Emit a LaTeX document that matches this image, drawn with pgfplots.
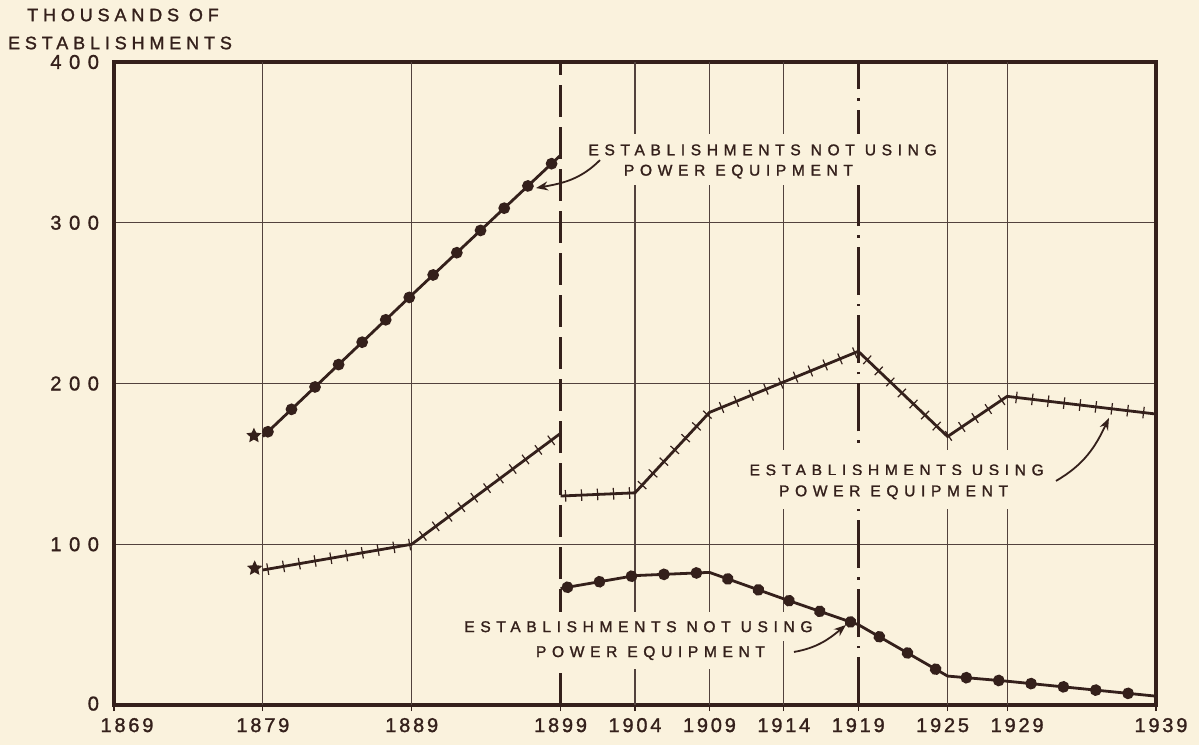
\documentclass[border=0pt]{standalone}
\usepackage{pgfplots}
\pgfplotsset{compat=1.18}
\usetikzlibrary{decorations.markings, arrows.meta}
\usepackage{fontspec}
\setmainfont{Liberation Sans}
\newfontfamily\annf[LetterSpace=36, FakeBold=1.4]{Liberation Sans}
\newfontfamily\xtf[LetterSpace=14, FakeBold=1.4]{Liberation Sans}
\newfontfamily\ytf[LetterSpace=38, FakeBold=1.4]{Liberation Sans}
\newfontfamily\ylf[LetterSpace=27, FakeBold=1.4]{Liberation Sans}
\definecolor{bg}{RGB}{250,242,221}
\definecolor{ink}{RGB}{52,32,27}

\pgfdeclareplotmark{fstar}{%
  \pgfpathmoveto{\pgfpointpolar{90}{\pgfplotmarksize}}%
  \pgfpathlineto{\pgfpointpolar{126}{0.48\pgfplotmarksize}}%
  \pgfpathlineto{\pgfpointpolar{162}{\pgfplotmarksize}}%
  \pgfpathlineto{\pgfpointpolar{198}{0.48\pgfplotmarksize}}%
  \pgfpathlineto{\pgfpointpolar{234}{\pgfplotmarksize}}%
  \pgfpathlineto{\pgfpointpolar{270}{0.48\pgfplotmarksize}}%
  \pgfpathlineto{\pgfpointpolar{306}{\pgfplotmarksize}}%
  \pgfpathlineto{\pgfpointpolar{342}{0.48\pgfplotmarksize}}%
  \pgfpathlineto{\pgfpointpolar{18}{\pgfplotmarksize}}%
  \pgfpathlineto{\pgfpointpolar{54}{0.48\pgfplotmarksize}}%
  \pgfpathclose\pgfusepathqfill}

\tikzset{
  dotline/.style={ink, line width=1.4pt, postaction={decorate},
    decoration={markings, mark=between positions 3.5pt and 1 step 16.25pt with {\fill[ink] (0pt,0pt) circle (2.2pt);}}},
  tickline/.style={ink, line width=1.4pt, postaction={decorate},
    decoration={markings, mark=between positions 2.5pt and 1 step 8pt with {\draw[ink, line width=0.6pt] (0pt,-2.9pt) -- (0pt,2.9pt);}}},
  ann/.style={fill=bg, inner xsep=4pt, text=ink, font=\annf\fontsize{7.8}{9}\selectfont},
  arr/.style={ink, line width=0.9pt, -{Stealth[length=6pt,width=4.5pt]}},
}

\pgfplotstableread{
x y
1879 167
1889 255
1899 342
}\notusingA
\pgfplotstableread{
x y
1899 72.5
1904 80.5
1909 82.5
1914 66
1919 50
1925 18
1929 14.8
1939 5.5
}\notusingB
\pgfplotstableread{
x y
1879 84
1889 100
1899 169
}\usingA
\pgfplotstableread{
x y
1899 130
1904 132
1909 182
1919 220
1925 167
1929 192
1939 181
}\usingB

\begin{document}
\begin{tikzpicture}
\path[use as bounding box, fill=bg] (-57pt,-20pt) rectangle (542.5pt,352.5pt);
\node[text=ink, font=\ylf\fontsize{9}{11}\selectfont] at (4.5pt,345pt) {THOUSANDS OF};
\node[text=ink, font=\ylf\fontsize{9}{11}\selectfont] at (3pt,331pt) {ESTABLISHMENTS};
\begin{axis}[
  at={(0,0)}, anchor=south west,
  width=521pt, height=321.5pt, scale only axis,
  xmin=1869, xmax=1939, ymin=0, ymax=400,
  axis line style={ink, line width=1.6pt},
  xtick={1869,1879,1889,1899,1904,1909,1914,1919,1925,1929,1939},
  xticklabels={\hspace*{13pt}1869,1879,1889,1899,1904,1909,1914,1919,1925\hspace*{5pt},\hspace*{10pt}1929,\hspace*{5pt}1939},
  ytick={0,100,200,300,400},
  yticklabels={\raisebox{1.5pt}{0},100,200,300,\raisebox{-4.5pt}{400}},
  xtick pos=bottom, ytick pos=left,
  tick align=outside,
  major tick length=3pt,
  xtick style={ink, line width=0.6pt},
  ytick style={draw=none},
  ymajorgrids=true,
  extra x ticks={1879,1889,1904,1909,1914,1925,1929},
  extra x tick labels={},
  extra x tick style={xmajorgrids=true, major tick length=0pt},
  major grid style={ink!85, line width=0.6pt},
  xticklabel style={text=ink, font=\xtf\fontsize{10}{12}\selectfont},
  yticklabel style={text=ink, font=\ytf\fontsize{10}{12}\selectfont, xshift=-1pt},
]
% special census-break lines
\draw[ink, line width=1.3pt, dash pattern=on 16pt off 5pt] (axis cs:1899,0) -- (axis cs:1899,400);
\draw[ink, line width=1.3pt, dash pattern=on 24pt off 4.5pt on 1.2pt off 4.5pt] (axis cs:1919,0) -- (axis cs:1919,400);

% annotations (cream boxes interrupt the grid)
\node[ann, inner ysep=5pt] at (axis cs:1912.57,345.3) {ESTABLISHMENTS NOT USING};
\node[ann, inner ysep=3pt] at (axis cs:1910.95,331.8) {POWER EQUIPMENT};
\node[ann, inner ysep=7pt] at (axis cs:1921.58,146.2) {ESTABLISHMENTS USING};
\node[ann, inner ysep=5pt] at (axis cs:1921.37,132.3) {POWER EQUIPMENT};
\node[ann, inner ysep=4.5pt] at (axis cs:1904.23,48.7) {ESTABLISHMENTS NOT USING};
\node[ann, inner ysep=4.5pt] at (axis cs:1905.04,32.3) {POWER EQUIPMENT};

\draw[arr] (axis cs:1901.65,339) to[out=225,in=10] (axis cs:1897.35,321.6);
\draw[arr] (axis cs:1932.28,139.4) to[out=30,in=245] (axis cs:1935.84,178.6);
\draw[arr] (axis cs:1914.68,33) to[out=10,in=220] (axis cs:1918.17,49.8);

\addplot[dotline, mark=none] table {\notusingA};
\addplot[dotline, mark=none] table {\notusingB};
\addplot[tickline, mark=none] table {\usingA};
\addplot[tickline, mark=none] table {\usingB};
\addplot[only marks, mark=fstar, mark size=4pt, ink] coordinates {(1878.4,167.5) (1878.45,85)};
\end{axis}
\end{tikzpicture}
\end{document}
